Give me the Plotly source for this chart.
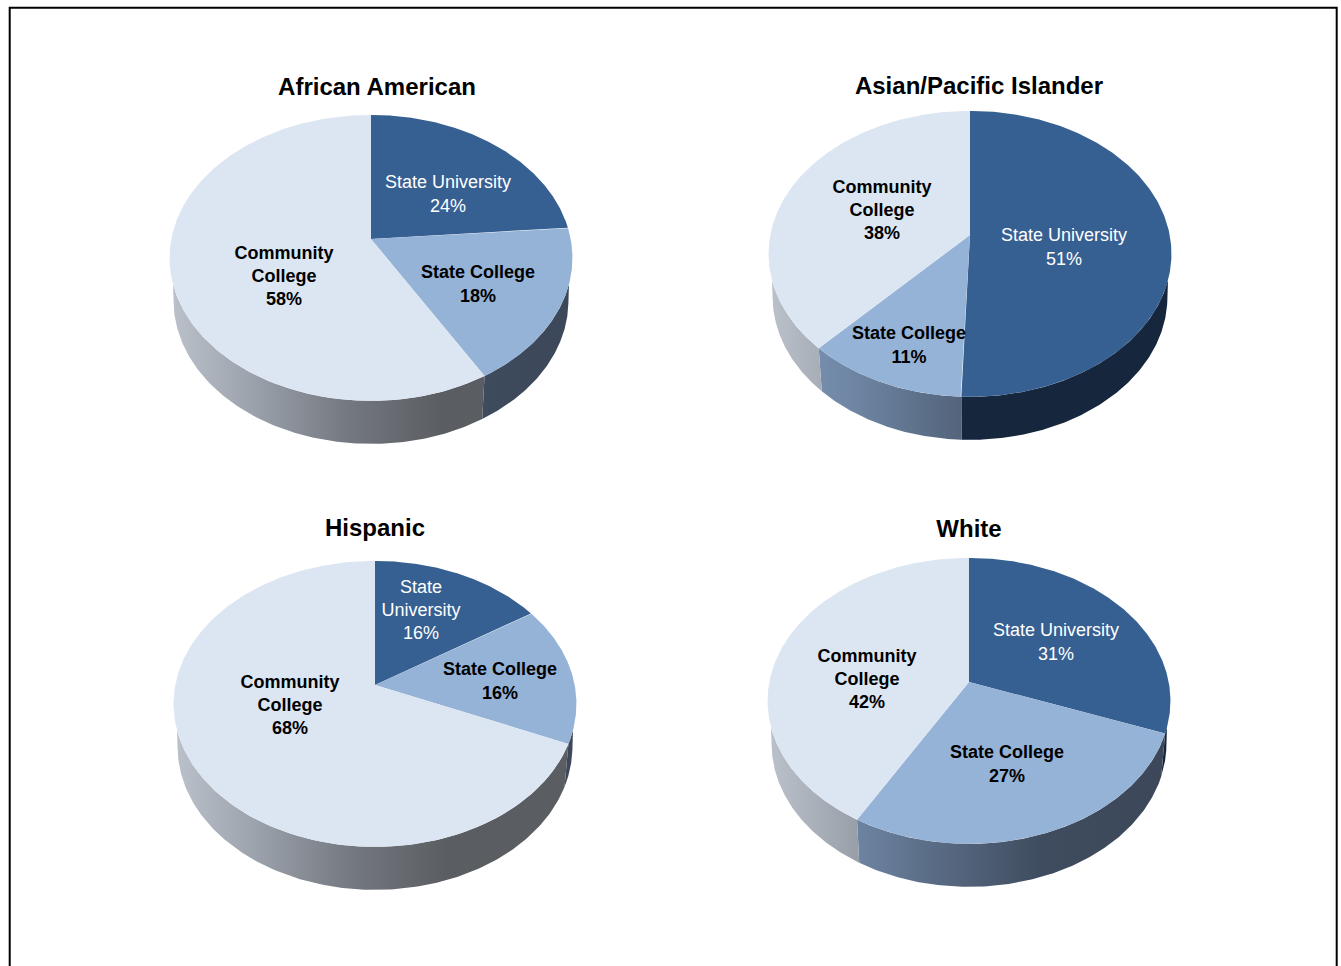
import numpy as np
import plotly.graph_objects as go

# ---- data ----
titles = ["African American", "Asian/Pacific Islander", "Hispanic", "White"]
state_university = [23.7, 50.6, 15.8, 30.6]
state_college = [17.9, 11.4, 15.7, 27.49]
community_college = [58.4, 38.0, 68.49, 41.6]
university_labels = ["State University", "State University", "State<br>University", "State University"]
college_labels = ["State College", "State College", "State College", "State College"]
community_labels = ["Community<br>College"] * 4

# ---- layout of the four pies (page units) ----
apex_x = [371, 970, 375, 969]
apex_y = [239, 235, 685, 682]
title_xy = [(377, 89), (979, 88), (375, 530), (969, 531)]
label_xy = [
    [(448, 195.5), (478, 285.5), (284, 277.5)],
    [(1064, 248.5), (909, 346.5), (882, 211.5)],
    [(421, 611.5), (500, 682.5), (290, 706.5)],
    [(1056, 643.5), (1007, 765.5), (867, 680.5)],
]
RX, RY, PERSP, DEPTH, BASE_SCALE = 199.7, 140.5, 0.132, 43, 0.98
RIM_START = 0.30  # where the wall emerges from beneath the top face, in turns

# ---- styles ----
TOP = ["#376092", "#95B3D7", "#DCE6F2"]
TEXT = ["white", "black", "black"]
SIDE = [
    [[0, "#16263D"], [1, "#16263D"]],
    [[0, "#7F97B6"], [0.2, "#6F87A5"], [0.45, "#56677F"], [0.68, "#3F4C5F"], [1, "#3C4859"]],
    [[0, "#BCC2CB"], [0.2, "#9CA3AC"], [0.45, "#73777F"], [0.68, "#5A5D61"], [1, "#5A5D61"]],
]
FONT = "Liberation Sans"


def project(turn, cx, cy):
    """Map fractions of a turn (clockwise from 12 o'clock) to the tilted disc."""
    a = np.asarray(turn) * 2 * np.pi
    u, v = np.sin(a), -np.cos(a)
    w = 1 - PERSP * v
    return cx + RX * u / w, cy + RY * v / w


fig = go.Figure()
vis0 = np.arccos(-PERSP) / (2 * np.pi)
vis1 = 1 - vis0

for i in range(4):
    vals = [state_university[i], state_college[i], community_college[i]]
    edges = np.concatenate([[0], np.cumsum(vals)]) / sum(vals)
    cx, cy = apex_x[i], apex_y[i]
    xmin, xmax = cx - RX / np.sqrt(1 - PERSP**2), cx + RX / np.sqrt(1 - PERSP**2)
    # walls
    for j in range(3):
        b0, b1 = max(edges[j], vis0), min(edges[j + 1], vis1)
        if b1 <= b0:
            continue
        t0, t1 = max(edges[j], RIM_START), min(edges[j + 1], 1 - RIM_START)
        if t1 <= t0:
            continue
        x, y = project(np.linspace(t0, t1, 160), cx, cy)
        xb, yb = project(np.linspace(b0, b1, 160), cx, cy)
        xb = cx + (xb - cx) * BASE_SCALE
        yb = yb + DEPTH
        fig.add_trace(go.Scatter(
            x=np.r_[x, xb[::-1], x[0]], y=np.r_[y, yb[::-1], y[0]],
            mode="lines", line=dict(width=0), fill="toself", hoverinfo="skip",
            fillgradient=dict(type="horizontal", colorscale=SIDE[j], start=xmin, stop=xmax),
        ))
    # top faces
    for j in range(3):
        x, y = project(np.linspace(edges[j], edges[j + 1], 240), cx, cy)
        fig.add_trace(go.Scatter(
            x=np.r_[cx, x, cx], y=np.r_[cy, y, cy],
            mode="lines", line=dict(width=0), fill="toself", fillcolor=TOP[j], hoverinfo="skip",
        ))
    # slice labels
    names = [university_labels[i], college_labels[i], community_labels[i]]
    for j in range(3):
        bold = j > 0
        txt = f"{names[j]}<br>{round(vals[j])}%"
        fig.add_trace(go.Scatter(
            x=[label_xy[i][j][0]], y=[label_xy[i][j][1]], mode="text",
            text=[f"<b>{txt}</b>" if bold else txt], textposition="middle center",
            textfont=dict(family=FONT, size=18, color=TEXT[j]), hoverinfo="skip",
        ))
    # title
    fig.add_trace(go.Scatter(
        x=[title_xy[i][0]], y=[title_xy[i][1]], mode="text", text=[f"<b>{titles[i]}</b>"],
        textposition="middle center", textfont=dict(family=FONT, size=24, color="black"),
        hoverinfo="skip",
    ))

fig.add_shape(type="rect", xref="x", yref="y", x0=9.7, y0=7.7, x1=1336.7, y1=1000,
              line=dict(color="black", width=2), layer="above")
fig.update_layout(
    width=1341, height=966, margin=dict(l=0, r=0, t=0, b=0),
    paper_bgcolor="white", plot_bgcolor="white", showlegend=False,
    xaxis=dict(range=[0, 1341], visible=False, fixedrange=True),
    yaxis=dict(range=[966, 0], visible=False, fixedrange=True),
)
fig.write_html("out.html", config={"displayModeBar": False},
               post_script="document.body.style.margin='0';document.documentElement.style.overflow='hidden';")
